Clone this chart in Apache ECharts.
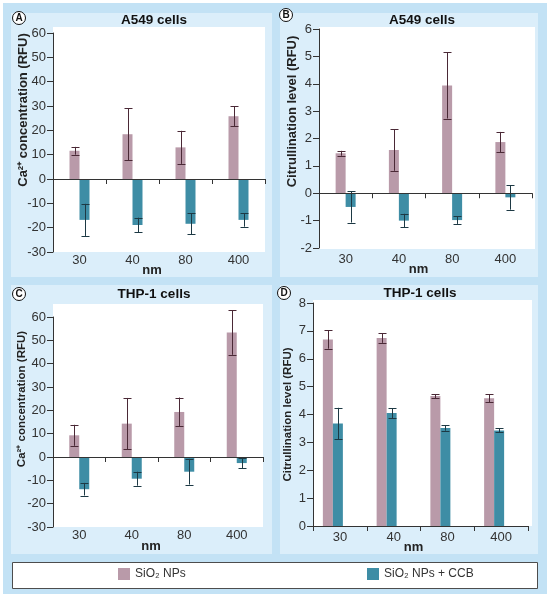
<!DOCTYPE html>
<html><head><meta charset="utf-8">
<script src="https://cdn.jsdelivr.net/npm/echarts@6.0.0/dist/echarts.min.js"></script>
<style>html,body{margin:0;padding:0;background:#fff}#c{width:552px;height:599px}</style>
</head><body><div id="c"></div>
<script>
// ---------- data ----------
const categories = ['30', '40', '80', '400'];
const seriesNames = ['SiO₂ NPs', 'SiO₂ NPs + CCB'];
const xAxisName = 'nm';
const caAxisName = 'Ca²⁺ concentration (RFU)';
const citAxisName = 'Citrullination level (RFU)';
const panelTitles = ['A549 cells', 'A549 cells', 'THP-1 cells', 'THP-1 cells'];
const panelLetters = ['A', 'B', 'C', 'D'];

// A: A549 Ca2+
const a549CaNPs = [11.6, 18.4, 13.0, 25.8];
const a549CaNPsErr = [1.6, 10.6, 6.8, 4.1];
const a549CaCCB = [-16.8, -18.9, -18.4, -16.8];
const a549CaCCBErr = [6.6, 3.0, 4.4, 2.8];
// B: A549 citrullination
const a549CitNPs = [1.46, 1.58, 3.94, 1.87];
const a549CitNPsErr = [0.09, 0.76, 1.21, 0.37];
const a549CitCCB = [-0.5, -1.0, -0.98, -0.15];
const a549CitCCBErr = [0.57, 0.25, 0.14, 0.45];
// C: THP-1 Ca2+
const thp1CaNPs = [9.3, 14.3, 19.3, 53.4];
const thp1CaNPsErr = [4.5, 11.0, 6.2, 9.6];
const thp1CaCCB = [-13.8, -9.3, -6.3, -2.6];
const thp1CaCCBErr = [2.7, 3.0, 5.5, 2.1];
// D: THP-1 citrullination
const thp1CitNPs = [6.69, 6.74, 4.66, 4.58];
const thp1CitNPsErr = [0.33, 0.17, 0.07, 0.14];
const thp1CitCCB = [3.68, 4.05, 3.52, 3.43];
const thp1CitCCBErr = [0.56, 0.18, 0.1, 0.07];

// y tick ranges
const caTicks = [-30, 60, 10];
const citTicksB = [-2, 6, 1];
const citTicksD = [0, 8, 1];

// ---------- styles / layout ----------
const FONT = '"Liberation Sans", Arial, sans-serif';
const PINK = '#b99aa9', TEAL = '#3e8da5';
const PINK_ERR = '#4a2936', TEAL_ERR = '#1d3944';
const AXIS = '#333', TXT = '#333';
const BAR_W = 10;

const panels = [
  { grid: {left: 53, top: 33, width: 212, height: 219}, ticks: caTicks, yName: caAxisName, nameSize: 13, namePad: 65, nameGap: 23.5,
    lblMargin: 2, nmGap: 12, vals: [a549CaNPs, a549CaCCB], errs: [a549CaNPsErr, a549CaCCBErr], ghost: 0,
    tx: 154, ty: 20, lx: 19, ly: 18, panel: [11, 13, 261, 264], plot: [53, 27, 212, 225] },
  { grid: {left: 319, top: 29, width: 213, height: 219}, ticks: citTicksB, yName: citAxisName, nameSize: 13, namePad: 54, nameGap: 20.5,
    lblMargin: 5, nmGap: 15, vals: [a549CitNPs, a549CitCCB], errs: [a549CitNPsErr, a549CitCCBErr], ghost: 0,
    tx: 422, ty: 20, lx: 286, ly: 15, panel: [280, 13, 258, 264], plot: [319, 27, 216, 222] },
  { grid: {left: 53, top: 317, width: 210, height: 210}, ticks: caTicks, yName: caAxisName, nameSize: 11.5, namePad: 46, nameGap: 25,
    lblMargin: 2, nmGap: 12.5, vals: [thp1CaNPs, thp1CaCCB], errs: [thp1CaNPsErr, thp1CaCCBErr], ghost: 0,
    tx: 154, ty: 294, lx: 19, ly: 294, panel: [11, 285, 261, 269], plot: [53, 304, 210, 223] },
  { grid: {left: 313, top: 303, width: 215, height: 223}, ticks: citTicksD, yName: citAxisName, nameSize: 11.5, namePad: 0, nameGap: 19,
    lblMargin: 5, nmGap: 14.5, vals: [thp1CitNPs, thp1CitCCB], errs: [thp1CitNPsErr, thp1CitCCBErr], ghost: 14,
    tx: 420, ty: 293, lx: 284, ly: 293, panel: [280, 285, 258, 269], plot: [313, 300, 219, 226] }
];

function errRenderer(offset, color) {
  return function (params, api) {
    const i = api.value(0);
    const top = api.coord([i, api.value(2)]);
    const bot = api.coord([i, api.value(1)]);
    const x = Math.round(top[0] + offset) + 0.5;
    const cap = 4;
    const st = {stroke: color, lineWidth: 1};
    return {type: 'group', children: [
      {type: 'line', shape: {x1: x, y1: top[1], x2: x, y2: bot[1]}, style: st},
      {type: 'line', shape: {x1: x - cap, y1: Math.round(top[1]) + 0.5, x2: x + cap, y2: Math.round(top[1]) + 0.5}, style: st},
      {type: 'line', shape: {x1: x - cap, y1: Math.round(bot[1]) + 0.5, x2: x + cap, y2: Math.round(bot[1]) + 0.5}, style: st}
    ]};
  };
}

const grid = [], xAxis = [], yAxis = [], series = [];
const bgEls = [], fgEls = [];

bgEls.push({type: 'rect', z: -10, shape: {x: 3, y: 3, width: 544, height: 591}, style: {fill: '#c3e2f5'}, silent: true});
bgEls.push({type: 'rect', z: -10, shape: {x: 12.5, y: 562.5, width: 525, height: 26}, style: {fill: '#fff', stroke: '#4d4d4d', lineWidth: 1}, silent: true});

panels.forEach((p, k) => {
  grid.push(Object.assign({}, p.grid));
  bgEls.push({type: 'rect', z: -10, shape: {x: p.panel[0], y: p.panel[1], width: p.panel[2], height: p.panel[3]}, style: {fill: '#dbeefa'}, silent: true});
  bgEls.push({type: 'rect', z: -9, shape: {x: p.plot[0], y: p.plot[1], width: p.plot[2], height: p.plot[3]}, style: {fill: '#ffffff'}, silent: true});
  // axis line at zero with ticks
  xAxis.push({type: 'category', gridIndex: k, data: categories, position: 'bottom', z: 10,
    axisLine: {show: true, onZero: true, lineStyle: {color: AXIS, width: 1}},
    axisTick: {show: true, length: 5, lineStyle: {color: AXIS}},
    axisLabel: {show: false}, splitLine: {show: false}});
  // label axis at bottom
  xAxis.push({type: 'category', gridIndex: k, data: categories, position: 'bottom', z: 10,
    axisLine: {show: false, onZero: false}, axisTick: {show: false}, splitLine: {show: false},
    axisLabel: {margin: p.lblMargin, fontSize: 13, color: TXT, fontFamily: FONT},
    name: xAxisName, nameLocation: 'middle', nameGap: p.nmGap, nameMoveOverlap: false,
    nameTextStyle: {fontWeight: 'bold', fontSize: 13, color: '#222', fontFamily: FONT, padding: [0, 14, 0, 0]}});
  yAxis.push({type: 'value', gridIndex: k, min: p.ticks[0], max: p.ticks[1], interval: p.ticks[2], z: 10,
    axisLine: {show: true, lineStyle: {color: AXIS}},
    axisTick: {show: true, length: 6, lineStyle: {color: AXIS}},
    axisLabel: {fontSize: 13, color: TXT, margin: 7, fontFamily: FONT},
    splitLine: {show: false},
    name: p.yName, nameLocation: 'middle', nameGap: p.nameGap, nameMoveOverlap: false,
    nameTextStyle: {fontWeight: 'bold', fontSize: p.nameSize, color: '#222', fontFamily: FONT, padding: [0, 0, 0, p.namePad]}});

  const total = 2 * BAR_W + p.ghost;
  const start = -total / 2;
  const offs = [start + BAR_W / 2, start + 1.5 * BAR_W];
  const colors = [PINK, TEAL], errColors = [PINK_ERR, TEAL_ERR];
  for (let s = 0; s < 2; s++) {
    series.push({type: 'bar', name: seriesNames[s], xAxisIndex: 2 * k, yAxisIndex: k, data: p.vals[s],
      barWidth: BAR_W, barGap: '0%', itemStyle: {color: colors[s]}, z: 5, silent: true});
  }
  if (p.ghost) {
    series.push({type: 'bar', name: '_gap', xAxisIndex: 2 * k, yAxisIndex: k, data: categories.map(() => '-'),
      barWidth: p.ghost, barGap: '0%', itemStyle: {color: 'rgba(0,0,0,0)'}, silent: true});
  }
  for (let s = 0; s < 2; s++) {
    series.push({type: 'custom', name: seriesNames[s] + ' error', xAxisIndex: 2 * k, yAxisIndex: k,
      coordinateSystem: 'cartesian2d', z: 8, silent: true, clip: false,
      encode: {x: 0, y: [1, 2]},
      data: categories.map((c, i) => [i, p.vals[s][i] - p.errs[s][i], p.vals[s][i] + p.errs[s][i]]),
      renderItem: errRenderer(offs[s], errColors[s])});
  }
  fgEls.push({type: 'text', z: 1, x: p.tx, y: p.ty, silent: true,
    style: {text: panelTitles[k], font: 'bold 13.5px ' + FONT, fill: '#111', textAlign: 'center', textVerticalAlign: 'middle'}});
  fgEls.push({type: 'circle', z: 1, shape: {cx: p.lx, cy: p.ly, r: 6.5}, style: {fill: '#fff', stroke: '#111', lineWidth: 1}, silent: true});
  fgEls.push({type: 'text', z: 2, x: p.lx, y: p.ly + 0.5, silent: true,
    style: {text: panelLetters[k], font: 'bold 10px ' + FONT, fill: '#111', textAlign: 'center', textVerticalAlign: 'middle'}});
});

const legendBase = {orient: 'horizontal', padding: 0, itemWidth: 12, itemHeight: 12, icon: 'rect', top: 568,
  textStyle: {fontSize: 12, color: '#333', fontFamily: FONT}, selectedMode: false};

const option = {
  animation: false,
  backgroundColor: '#fff',
  textStyle: {fontFamily: FONT},
  grid: grid,
  xAxis: xAxis,
  yAxis: yAxis,
  series: series,
  legend: [
    Object.assign({}, legendBase, {data: [seriesNames[0]], left: 118}),
    Object.assign({}, legendBase, {data: [seriesNames[1]], left: 367})
  ],
  graphic: {elements: bgEls.concat(fgEls)}
};

const chart = echarts.init(document.getElementById('c'), null, {renderer: 'canvas'});
chart.setOption(option);
</script>
</body></html>
